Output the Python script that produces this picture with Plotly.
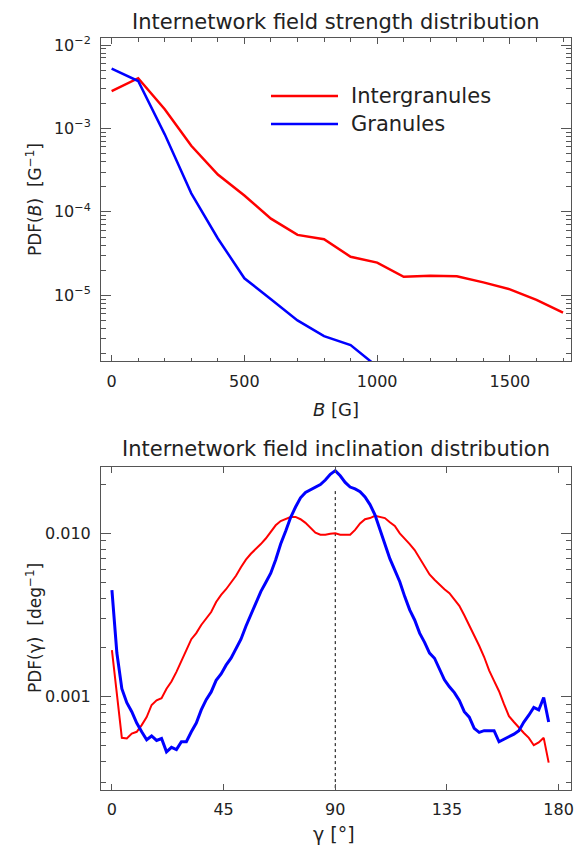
import plotly.graph_objects as go

W, H = 577, 847

# ---------------- data ----------------
B_vals = [0, 100, 200, 300, 400, 500, 600, 700, 800, 900, 1000, 1100, 1200, 1300, 1400, 1500, 1600, 1700]
pdfB_inter = [2.8e-3, 4.0e-3, 1.7e-3, 6.2e-4, 2.8e-4, 1.57e-4, 8.3e-5, 5.3e-5, 4.7e-5, 2.9e-5,
              2.47e-5, 1.67e-5, 1.72e-5, 1.69e-5, 1.43e-5, 1.18e-5, 8.8e-6, 6.2e-6]
B_gran = [0, 100, 200, 300, 400, 500, 600, 700, 800, 900, 1000]
pdfB_gran = [5.2e-3, 3.7e-3, 8.5e-4, 1.67e-4, 4.8e-5, 1.6e-5, 9.0e-6, 5.0e-6, 3.25e-6, 2.53e-6, 1.4e-6]

gamma = list(range(0, 178, 2))
pdfG_inter = [1.93e-3, 1.05e-3, 5.6e-4, 5.55e-4, 5.95e-4, 6.1e-4, 6.7e-4, 7.5e-4, 8.9e-4, 9.5e-4,
              9.8e-4, 1.12e-3, 1.24e-3, 1.42e-3, 1.64e-3, 1.93e-3, 2.25e-3, 2.45e-3, 2.75e-3, 3.0e-3,
              3.3e-3, 3.8e-3, 4.2e-3, 4.55e-3, 5.0e-3, 5.5e-3, 6.2e-3, 6.9e-3, 7.5e-3, 8.0e-3,
              8.6e-3, 9.3e-3, 1.02e-2, 1.12e-2, 1.19e-2, 1.23e-2, 1.26e-2, 1.26e-2, 1.22e-2, 1.16e-2,
              1.08e-2, 1.01e-2, 9.8e-3, 9.8e-3, 9.95e-3, 1.0e-2, 9.8e-3, 9.8e-3, 9.8e-3, 1.05e-2,
              1.15e-2, 1.22e-2, 1.24e-2, 1.28e-2, 1.26e-2, 1.24e-2, 1.17e-2, 1.11e-2, 1.0e-2, 9.3e-3,
              8.6e-3, 7.9e-3, 7.0e-3, 6.3e-3, 5.6e-3, 5.2e-3, 4.85e-3, 4.55e-3, 4.3e-3, 3.95e-3,
              3.6e-3, 3.15e-3, 2.75e-3, 2.35e-3, 2.05e-3, 1.75e-3, 1.45e-3, 1.25e-3, 1.08e-3, 9.0e-4,
              7.6e-4, 7.0e-4, 6.45e-4, 6.0e-4, 5.6e-4, 5.05e-4, 5.25e-4, 5.6e-4, 3.95e-4]
pdfG_gran = [4.5e-3, 1.85e-3, 1.12e-3, 9.2e-4, 8.1e-4, 6.9e-4, 6.1e-4, 5.45e-4, 5.75e-4, 5.4e-4,
             5.55e-4, 4.6e-4, 4.9e-4, 4.75e-4, 5.3e-4, 5.3e-4, 6.1e-4, 6.9e-4, 8.3e-4, 9.6e-4,
             1.07e-3, 1.26e-3, 1.38e-3, 1.56e-3, 1.72e-3, 1.95e-3, 2.25e-3, 2.7e-3, 3.15e-3, 3.75e-3,
             4.4e-3, 5.0e-3, 5.7e-3, 6.9e-3, 8.6e-3, 1.03e-2, 1.25e-2, 1.45e-2, 1.65e-2, 1.78e-2,
             1.85e-2, 1.9e-2, 1.99e-2, 2.12e-2, 2.3e-2, 2.42e-2, 2.25e-2, 2.05e-2, 1.92e-2, 1.87e-2,
             1.8e-2, 1.67e-2, 1.5e-2, 1.3e-2, 1.05e-2, 8.5e-3, 7.0e-3, 5.96e-3, 5.06e-3, 4.1e-3,
             3.4e-3, 2.95e-3, 2.45e-3, 2.15e-3, 1.85e-3, 1.72e-3, 1.49e-3, 1.27e-3, 1.15e-3, 1.06e-3,
             9.5e-4, 8.1e-4, 7.5e-4, 6.4e-4, 6.05e-4, 6.2e-4, 6.2e-4, 6.2e-4, 5.3e-4, 5.5e-4,
             5.75e-4, 5.9e-4, 6.2e-4, 7.0e-4, 7.7e-4, 8.6e-4, 8.3e-4, 9.9e-4, 7.0e-4]

dotted_x = [90, 90]
dotted_y = [1e-4, 0.0183]

series_names = ["Intergranules", "Granules"]
top_title = "Internetwork field strength distribution"
bot_title = "Internetwork field inclination distribution"
top_xticks = [0, 500, 1000, 1500]
top_yticks = [1e-5, 1e-4, 1e-3, 1e-2]
top_yticktext = ["10<sup>−5</sup>", "10<sup>−4</sup>", "10<sup>−3</sup>", "10<sup>−2</sup>"]
bot_xticks = [0, 45, 90, 135, 180]
bot_yticks = [0.001, 0.01]
bot_yticktext = ["0.001", "0.010"]

RED = "#ff0000"
BLUE = "#0000ff"
FONT = "DejaVu Sans"
TXT = "#222222"
AX = "#555555"

# ---------------- figure ----------------
fig = go.Figure()
fig.add_trace(go.Scatter(x=B_vals, y=pdfB_inter, mode="lines", line=dict(color=RED, width=2.5),
                         name=series_names[0], showlegend=False, xaxis="x", yaxis="y"))
fig.add_trace(go.Scatter(x=B_gran, y=pdfB_gran, mode="lines", line=dict(color=BLUE, width=2.5),
                         name=series_names[1], showlegend=False, xaxis="x", yaxis="y"))
fig.add_trace(go.Scatter(x=dotted_x, y=dotted_y, mode="lines", line=dict(color="black", width=1, dash="dot"),
                         showlegend=False, xaxis="x2", yaxis="y2"))
fig.add_trace(go.Scatter(x=gamma, y=pdfG_inter, mode="lines", line=dict(color=RED, width=2),
                         name=series_names[0], showlegend=False, xaxis="x2", yaxis="y2"))
fig.add_trace(go.Scatter(x=gamma, y=pdfG_gran, mode="lines", line=dict(color=BLUE, width=3),
                         name=series_names[1], showlegend=False, xaxis="x2", yaxis="y2"))

def px_x(p):
    return p / W

def px_y(p):
    return 1 - p / H

L, R = 101, 571
top_t, top_b = 38, 361
bot_t, bot_b = 466.7, 790

def minor_log(lo_exp, hi_exp):
    vals = []
    for e in range(lo_exp, hi_exp + 1):
        for m in range(2, 10):
            vals.append(m * 10 ** e)
    return vals

common_ax = dict(showline=True, linecolor=AX, linewidth=1, mirror="allticks", ticks="inside",
                 tickcolor=AX, showgrid=False, zeroline=False,
                 tickfont=dict(family=FONT, size=16, color=TXT), automargin=False)

fig.update_layout(
    width=W, height=H, margin=dict(l=0, r=0, t=0, b=0),
    paper_bgcolor="white", plot_bgcolor="white", showlegend=False,
    xaxis=dict(domain=[px_x(L), px_x(R)], anchor="y", range=[-40, 1730],
               tickvals=top_xticks, ticklen=6, ticklabelstandoff=6,
               minor=dict(dtick=100, tick0=0, ticks="inside", ticklen=3.5, tickcolor=AX, showgrid=False),
               **common_ax),
    yaxis=dict(domain=[px_y(top_b), px_y(top_t)], anchor="x", type="log", range=[-5.787, -1.916],
               tickvals=top_yticks, ticktext=top_yticktext, ticklen=10,
               ticklabelstandoff=6,
               minor=dict(tickvals=minor_log(-6, -2), ticks="inside", ticklen=5, tickcolor=AX, showgrid=False),
               **common_ax),
    xaxis2=dict(domain=[px_x(L), px_x(R)], anchor="y2", range=[-4.4, 185],
                tickvals=bot_xticks, ticklen=6, ticklabelstandoff=5, **common_ax),
    yaxis2=dict(domain=[px_y(bot_b), px_y(bot_t)], anchor="x2", type="log", range=[-3.571, -1.592],
                tickvals=bot_yticks, ticktext=bot_yticktext, ticklen=10, ticklabelstandoff=6,
                minor=dict(tickvals=minor_log(-4, -2), ticks="inside", ticklen=5, tickcolor=AX, showgrid=False),
                **common_ax),
)

ann_font = dict(family=FONT, color=TXT)
annotations = [
    dict(text=top_title, x=px_x(336), y=px_y(22), font=dict(size=21, **ann_font)),
    dict(text=bot_title, x=px_x(336), y=px_y(449), font=dict(size=21, **ann_font)),
    dict(text="<i>B</i> [G]", x=px_x(336), y=px_y(409), font=dict(size=18, **ann_font)),
    dict(text="γ [°]", x=px_x(334), y=px_y(834), font=dict(size=19, **ann_font)),
    dict(text="PDF(<i>B</i>)  [G<sup>−1</sup>]", x=px_x(34), y=px_y(200), textangle=-90,
         font=dict(size=17, **ann_font)),
    dict(text="PDF(γ)  [deg<sup>−1</sup>]", x=px_x(34), y=px_y(628), textangle=-90,
         font=dict(size=17, **ann_font)),
    dict(text=series_names[0], x=px_x(349), y=px_y(96), xanchor="left", font=dict(size=21, **ann_font)),
    dict(text=series_names[1], x=px_x(349), y=px_y(124), xanchor="left", font=dict(size=21, **ann_font)),
]
for a in annotations:
    a.setdefault("xanchor", "center")
    a.update(xref="paper", yref="paper", yanchor="middle", showarrow=False)
fig.update_layout(annotations=annotations)

fig.add_shape(type="line", xref="paper", yref="paper", x0=px_x(271), x1=px_x(338),
              y0=px_y(96), y1=px_y(96), line=dict(color=RED, width=2.5))
fig.add_shape(type="line", xref="paper", yref="paper", x0=px_x(271), x1=px_x(338),
              y0=px_y(124), y1=px_y(124), line=dict(color=BLUE, width=2.5))

fig.write_html("out.html")
